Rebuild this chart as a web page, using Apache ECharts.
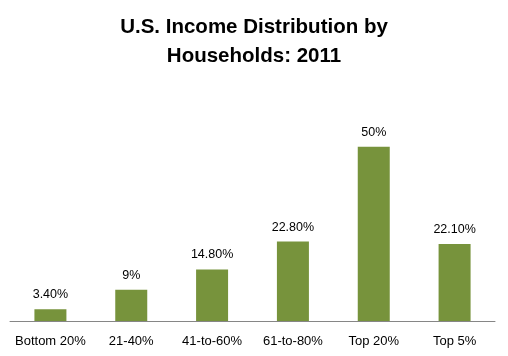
<!DOCTYPE html>
<html>
<head>
<meta charset="utf-8">
<style>html,body{margin:0;padding:0;background:#fff;}#c{width:508px;height:356px;}</style>
<script src="https://cdn.jsdelivr.net/npm/echarts@6/dist/echarts.min.js"></script>
</head>
<body>
<div id="c"></div>
<script>
const categories = ['Bottom 20%', '21-40%', '41-to-60%', '61-to-80%', 'Top 20%', 'Top 5%'];
const values = [3.4, 9, 14.8, 22.8, 50, 22.1];
const valueLabels = ['3.40%', '9%', '14.80%', '22.80%', '50%', '22.10%'];

const chart = echarts.init(document.getElementById('c'), null, {renderer: 'canvas'});
chart.setOption({
  animation: false,
  backgroundColor: '#ffffff',
  title: {
    text: 'U.S. Income Distribution by\nHouseholds: 2011',
    left: 'center',
    top: 8,
    textStyle: {fontFamily: 'Liberation Sans', fontWeight: 'bold', fontSize: 20.5, lineHeight: 29, color: '#000'}
  },
  grid: {left: 10, right: 13, top: 112, bottom: 35, containLabel: false},
  xAxis: {
    type: 'category',
    data: categories,
    axisLine: {lineStyle: {color: '#868686', width: 1}},
    axisTick: {show: false},
    axisLabel: {fontFamily: 'Liberation Sans', fontSize: 13, color: '#000', margin: 14, interval: 0}
  },
  yAxis: {
    type: 'value', min: 0, max: 60, show: false,
    splitLine: {show: false}
  },
  series: [{
    type: 'bar',
    data: values,
    barWidth: 32,
    itemStyle: {color: '#77933C'},
    label: {
      show: true, position: 'top', distance: 8,
      fontFamily: 'Liberation Sans', fontSize: 12.5, color: '#000',
      formatter: p => valueLabels[p.dataIndex]
    }
  }]
});
</script>
</body>
</html>
